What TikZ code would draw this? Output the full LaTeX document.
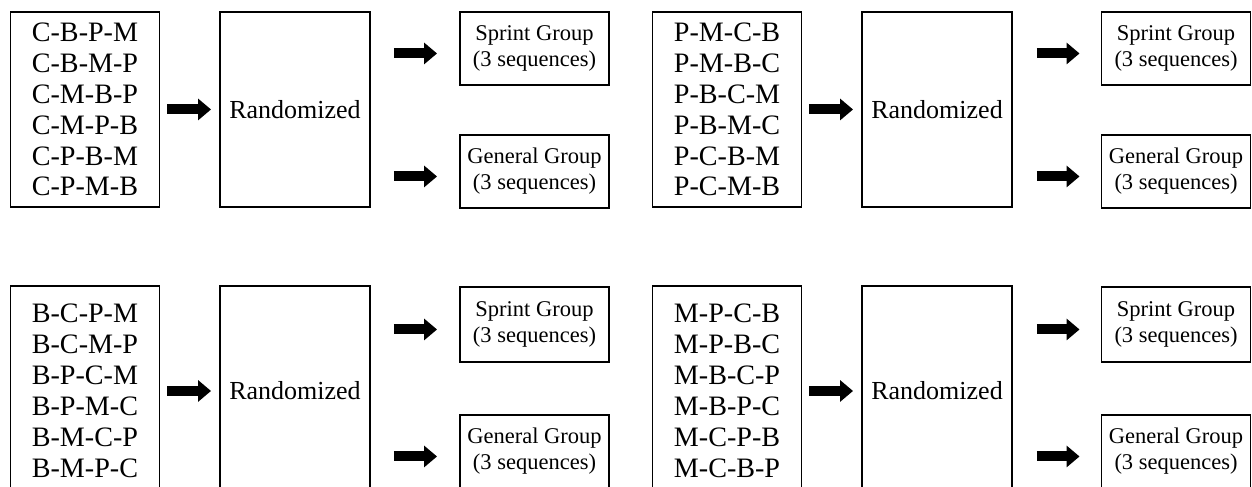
\documentclass[tikz,border=0pt]{standalone}
\usepackage{fontspec}
\setmainfont{Liberation Serif}
\usetikzlibrary{arrows.meta}

\tikzset{
  listbox/.style={draw, line width=1.1pt, minimum width=2.98cm, minimum height=3.9cm,
    anchor=north, align=center, inner sep=0pt, font=\fontsize{16}{17.6}\selectfont},
  randbox/.style={draw, line width=1.1pt, minimum width=3cm, minimum height=3.9cm,
    anchor=north, font=\fontsize{14.8}{17}\selectfont},
  groupbox/.style={draw, line width=1.1pt, minimum width=2.98cm, minimum height=1.46cm,
    anchor=north, align=center, inner sep=0pt, font=\fontsize{12.8}{14.8}\selectfont},
  fatarrow/.style={line width=0.2cm, -{Triangle[length=0.26cm,width=0.42cm]}},
}

\begin{document}
\begin{tikzpicture}
    \useasboundingbox (0,0) rectangle (25.04,9.72);
    \clip (0,0) rectangle (25.04,9.72);

    % top left
    \node[listbox] (listC) at (1.70,9.50) {C-B-P-M\\C-B-M-P\\C-M-B-P\\C-M-P-B\\C-P-B-M\\C-P-M-B};
    \node[randbox] (randC) at (5.90,9.50) {Randomized};
    \node[groupbox] (sprintC) at (10.69,9.50) {Sprint Group\\(3 sequences)};
    \node[groupbox] (generalC) at (10.69,7.04) {General Group\\(3 sequences)};
    \draw[fatarrow, shorten <=0.14cm, shorten >=0.16cm] (listC) -- (randC);
    \draw[fatarrow, shorten <=0.46cm, shorten >=0.44cm] ([yshift=-0.1cm]randC.east |- sprintC.west) -- ([yshift=-0.1cm]sprintC.west);
    \draw[fatarrow, shorten <=0.46cm, shorten >=0.44cm] ([yshift=-0.1cm]randC.east |- generalC.west) -- ([yshift=-0.1cm]generalC.west);

    % top right
    \node[listbox] (listP) at (14.54,9.50) {P-M-C-B\\P-M-B-C\\P-B-C-M\\P-B-M-C\\P-C-B-M\\P-C-M-B};
    \node[randbox] (randP) at (18.74,9.50) {Randomized};
    \node[groupbox] (sprintP) at (23.52,9.50) {Sprint Group\\(3 sequences)};
    \node[groupbox] (generalP) at (23.52,7.04) {General Group\\(3 sequences)};
    \draw[fatarrow, shorten <=0.14cm, shorten >=0.16cm] (listP) -- (randP);
    \draw[fatarrow, shorten <=0.48cm, shorten >=0.42cm] ([yshift=-0.1cm]randP.east |- sprintP.west) -- ([yshift=-0.1cm]sprintP.west);
    \draw[fatarrow, shorten <=0.48cm, shorten >=0.42cm] ([yshift=-0.1cm]randP.east |- generalP.west) -- ([yshift=-0.1cm]generalP.west);

    % bottom left
    \node[listbox, minimum height=4.2cm] (listB) at (1.70,4.02) {B-C-P-M\\B-C-M-P\\B-P-C-M\\B-P-M-C\\B-M-C-P\\B-M-P-C};
    \node[randbox, minimum height=4.2cm] (randB) at (5.90,4.02) {Randomized};
    \node[groupbox, minimum height=1.5cm] (sprintB) at (10.69,4.00) {Sprint Group\\(3 sequences)};
    \node[groupbox] (generalB) at (10.69,1.44) {General Group\\(3 sequences)};
    \draw[fatarrow, shorten <=0.14cm, shorten >=0.16cm] (listB) -- (randB);
    \draw[fatarrow, shorten <=0.46cm, shorten >=0.44cm] ([yshift=-0.1cm]randB.east |- sprintB.west) -- ([yshift=-0.1cm]sprintB.west);
    \draw[fatarrow, shorten <=0.46cm, shorten >=0.44cm] ([yshift=-0.1cm]randB.east |- generalB.west) -- ([yshift=-0.1cm]generalB.west);

    % bottom right
    \node[listbox, minimum height=4.2cm] (listM) at (14.54,4.02) {M-P-C-B\\M-P-B-C\\M-B-C-P\\M-B-P-C\\M-C-P-B\\M-C-B-P};
    \node[randbox, minimum height=4.2cm] (randM) at (18.74,4.02) {Randomized};
    \node[groupbox, minimum height=1.5cm] (sprintM) at (23.52,4.00) {Sprint Group\\(3 sequences)};
    \node[groupbox] (generalM) at (23.52,1.44) {General Group\\(3 sequences)};
    \draw[fatarrow, shorten <=0.14cm, shorten >=0.16cm] (listM) -- (randM);
    \draw[fatarrow, shorten <=0.48cm, shorten >=0.42cm] ([yshift=-0.1cm]randM.east |- sprintM.west) -- ([yshift=-0.1cm]sprintM.west);
    \draw[fatarrow, shorten <=0.48cm, shorten >=0.42cm] ([yshift=-0.1cm]randM.east |- generalM.west) -- ([yshift=-0.1cm]generalM.west);
\end{tikzpicture}
\end{document}
